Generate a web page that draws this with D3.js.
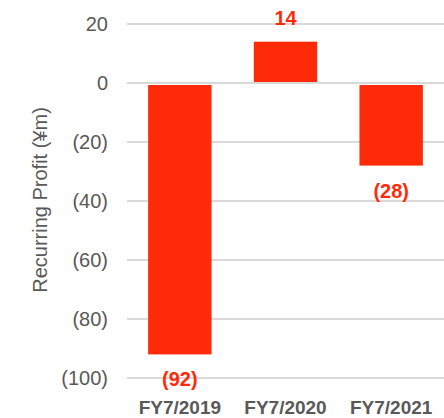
<!DOCTYPE html>
<html><head><meta charset="utf-8">
<script src="https://cdn.jsdelivr.net/npm/d3@7"></script>
<style>body{margin:0;background:#fff}svg{display:block}</style>
</head><body>
<svg id="c" width="444" height="418"></svg>
<script>
const categories = ["FY7/2019", "FY7/2020", "FY7/2021"];
const values = [-92, 14, -28];
const valueLabels = ["(92)", "14", "(28)"];
const tickValues = [20, 0, -20, -40, -60, -80, -100];
const tickLabels = ["20", "0", "(20)", "(40)", "(60)", "(80)", "(100)"];
const yTitle = "Recurring Profit (¥m)";

const svg = d3.select("#c");
const left = 127, right = 444;
const y = d3.scaleLinear().domain([-100, 20]).range([378, 24]);
const x = d3.scaleBand().domain(categories).range([left, right]).paddingInner(0.4).paddingOuter(0.2);
const font = "'Liberation Sans', Arial, sans-serif";
const red = "#ff2a08";

// gridlines
svg.append("g").selectAll("line").data(tickValues).join("line")
  .attr("x1", left).attr("x2", right)
  .attr("y1", d => y(d)).attr("y2", d => y(d))
  .attr("stroke", "#d9d9d9").attr("stroke-width", 2);

// tick labels
svg.append("g").selectAll("text").data(tickValues).join("text")
  .attr("x", 108).attr("y", d => y(d)).attr("dy", "0.35em")
  .attr("text-anchor", "end").attr("font-family", font).attr("font-size", 20)
  .attr("fill", "#595959").text((d, i) => tickLabels[i]);

// bars
svg.append("g").selectAll("rect").data(values).join("rect")
  .attr("x", (d, i) => x(categories[i]))
  .attr("width", x.bandwidth())
  .attr("y", d => d >= 0 ? y(d) : y(0) + 2)
  .attr("height", d => d >= 0 ? y(0) - 1 - y(d) : y(d) - y(0) - 2)
  .attr("fill", red);

// value labels
svg.append("g").selectAll("text").data(values).join("text")
  .attr("x", (d, i) => x(categories[i]) + x.bandwidth() / 2)
  .attr("y", d => d >= 0 ? y(d) - 17 : y(d) + 32)
  .attr("text-anchor", "middle").attr("font-family", font).attr("font-size", 20)
  .attr("font-weight", "bold").attr("fill", red).text((d, i) => valueLabels[i]);

// category labels
svg.append("g").selectAll("text").data(categories).join("text")
  .attr("x", d => x(d) + x.bandwidth() / 2).attr("y", 414)
  .attr("text-anchor", "middle").attr("font-family", font).attr("font-size", 19)
  .attr("font-weight", "bold").attr("fill", "#595959").text(d => d);

// y title
svg.append("text")
  .attr("transform", "translate(47,200) rotate(-90)")
  .attr("text-anchor", "middle").attr("font-family", font).attr("font-size", 20)
  .attr("fill", "#595959").text(yTitle);
</script>
</body></html>
